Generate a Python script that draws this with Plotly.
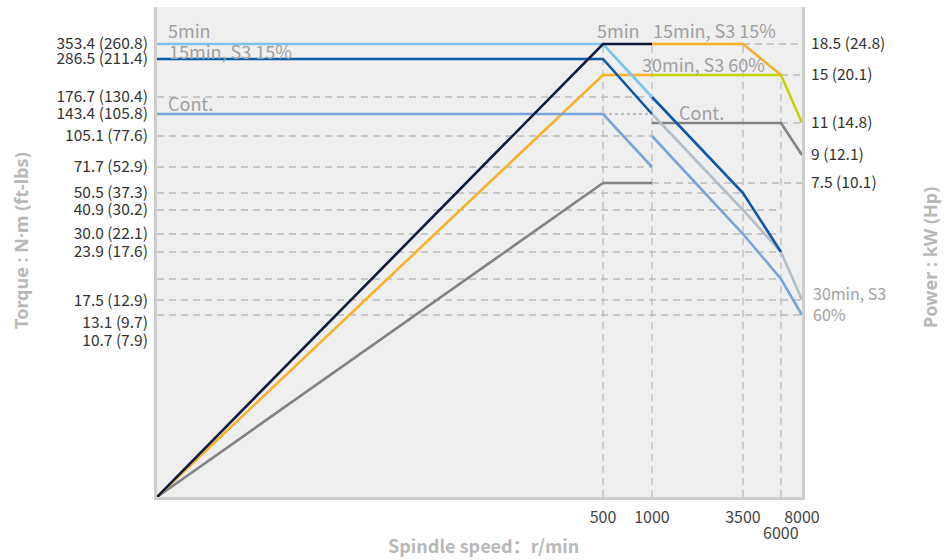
import numpy as np
import plotly.graph_objects as go

# ---------------- data ----------------
SPEED_TICKS = [0, 500, 1000, 3500, 6000, 8000]
SPEED_TICK_TEXT = ["", "500", "1000", "3500", "", "8000"]

TORQUE_TICKS = [353.4, 286.5, 176.7, 143.4, 105.1, 71.7, 50.5, 40.9, 30.0, 23.9, 17.5, 13.1, 10.7]
TORQUE_TICK_TEXT = ["353.4 (260.8)", "286.5 (211.4)", "176.7 (130.4)", "143.4 (105.8)",
                    "105.1 (77.6)", "71.7 (52.9)", "50.5 (37.3)", "40.9 (30.2)",
                    "30.0 (22.1)", "23.9 (17.6)", "17.5 (12.9)", "13.1 (9.7)", "10.7 (7.9)"]

POWER_TICKS = [18.5, 15, 11, 9, 7.5]
POWER_TICK_TEXT = ["18.5 (24.8)", "15 (20.1)", "11 (14.8)", "9 (12.1)", "7.5 (10.1)"]

# low-speed winding (0 - 1000 r/min)
low_speed = [0, 500, 1000]
low_power_5min = [0, 18.5, 18.5]
low_power_s3_15 = [0, 15, 15]
low_power_cont = [0, 7.5, 7.5]
low_torque_5min = [353.4, 353.4, 176.7]
low_torque_s3_15 = [286.5, 286.5, 143.4]
low_torque_cont = [143.4, 143.4, 71.7]

# high-speed winding (1000 - 8000 r/min)
high_speed_a = [1000, 3500, 6000]
high_power_s3_15 = [18.5, 18.5, 15]
high_torque_s3_15 = [176.7, 50.5, 23.9]
high_speed_b = [1000, 3500, 6000, 8000]
high_power_s3_60 = [15, 15, 15, 11]
high_torque_s3_60 = [143.4, 40.9, 23.9, 13.1]
high_power_cont = [11, 11, 11, 9]
high_torque_cont = [105.1, 30.0, 17.5, 10.7]

# ---------------- custom (schematic) axis scales ----------------
# piecewise scale definitions: tick value -> axis position (plot px)
X_SCALE_VAL = [0, 500, 1000, 3500, 6000, 8000]
X_SCALE_POS = [0, 446, 495, 586, 624, 645]
T_SCALE_VAL = [0, 10.7, 13.1, 17.5, 23.9, 30.0, 40.9, 50.5, 71.7, 105.1, 143.4, 176.7, 286.5, 353.4]
T_SCALE_POS = [0, 182, 197, 218, 245, 263, 287, 304, 330, 361, 383, 400, 438, 453]
P_SCALE_VAL = [0, 7.5, 9, 11, 15, 18.5]
P_SCALE_POS = [0, 314, 342, 374, 422, 453]

W, H = 645, 490  # plot area size in px
L, T = 157, 7    # plot area offset in the page


def xs(v):
    return np.interp(v, X_SCALE_VAL, X_SCALE_POS)


def yt(v):
    return np.interp(v, T_SCALE_VAL, T_SCALE_POS)


def yp(v):
    return np.interp(v, P_SCALE_VAL, P_SCALE_POS)


C_LIGHTBLUE = "#74c6ee"
C_DARKBLUE = "#0b5aa8"
C_MIDBLUE = "#7aa3dc"
C_NAVY = "#0c1a3c"
C_ORANGE = "#f9b12c"
C_GREEN = "#c3d500"
C_GRAY = "#828282"
C_LIGHTGRAY = "#b3bec9"
C_GRID = "#bcbcbc"
C_NOTE = "#a0a0a0"
FONT = "Noto Sans CJK SC"

fig = go.Figure()


def line(x, y, color, width=2.6):
    fig.add_trace(go.Scatter(x=x, y=y, mode="lines", line=dict(color=color, width=width),
                             hoverinfo="skip", showlegend=False))


# power curves
line(xs(low_speed), yp(low_power_cont), C_GRAY)
line(xs(low_speed), yp(low_power_s3_15), C_ORANGE)
line(xs(high_speed_b), yp(high_power_cont), C_GRAY)
line(xs(high_speed_b), yp(high_power_s3_60), C_GREEN)
line(xs(high_speed_a), yp(high_power_s3_15), C_ORANGE)
# torque curves
line(xs(low_speed), yt(low_torque_cont), C_MIDBLUE)
line(xs(high_speed_b), yt(high_torque_cont), C_MIDBLUE)
line(xs(high_speed_b), yt(high_torque_s3_60), C_LIGHTGRAY)
line(xs(low_speed), yt(low_torque_s3_15), C_DARKBLUE)
line(xs(high_speed_a), yt(high_torque_s3_15), C_DARKBLUE)
line(xs(low_speed), yt(low_torque_5min), C_LIGHTBLUE)
line(xs(low_speed), yp(low_power_5min), C_NAVY)

# y2 overlay trace (invisible) so the right axis renders
fig.add_trace(go.Scatter(x=[0], y=[0], yaxis="y2", mode="markers", marker=dict(opacity=0),
                         hoverinfo="skip", showlegend=False))

# ---------------- grid (dashed reference lines) ----------------
DASH = "7px,5px"
shapes = []
torque_grid = [(176.7, 1000), (105.1, 1000), (71.7, 1000), (50.5, 3500), (40.9, 6000),
               (30.0, 6000), (23.9, 6000), (17.5, 6000), (13.1, 8000), (10.7, 8000)]
for val, end in torque_grid:
    shapes.append(dict(type="line", layer="below", x0=0, x1=xs(end), y0=yt(val), y1=yt(val),
                       line=dict(color=C_GRID, width=1.3, dash=DASH)))
power_grid = [(18.5, 3500, 8000), (15, 6000, 8000), (11, 6000, 8000), (7.5, 1000, 8000)]
for val, start, end in power_grid:
    shapes.append(dict(type="line", layer="below", x0=xs(start), x1=xs(end), y0=yp(val), y1=yp(val),
                       line=dict(color=C_GRID, width=1.3, dash=DASH)))
vert_grid = [(500, 18.5), (1000, 18.5), (3500, 18.5), (6000, 15)]
for sp, pw in vert_grid:
    shapes.append(dict(type="line", layer="below", x0=xs(sp), x1=xs(sp), y0=0, y1=yp(pw),
                       line=dict(color=C_GRID, width=1.3, dash=DASH)))
shapes.append(dict(type="line", layer="below", x0=xs(500), x1=xs(1000), y0=yt(143.4), y1=yt(143.4),
                   line=dict(color="#8c8c8c", width=1, dash="dot")))

# ---------------- annotations ----------------
ann = []


def px_x(px):
    return (px - L) / W


def px_y(py):
    return (T + H - py) / H


def note(text, x, y, anchor="left", size=18):
    ann.append(dict(text=text, x=px_x(x), y=px_y(y), xref="paper", yref="paper", xanchor=anchor,
                    yanchor="middle", showarrow=False, align="left",
                    font=dict(family=FONT, size=size, color=C_NOTE)))


note("5min", 166, 30)
note("15min, S3 15%", 167, 51)
note("Cont.", 166, 103)
note("5min", 618, 30, anchor="center")
note("15min, S3 15%", 651, 30)
note("30min, S3 60%", 640, 64)
note("Cont.", 677, 112)
note("30min, S3<br>60%", 811, 303, size=16)
ann.append(dict(text="6000", x=xs(6000) / W, y=px_y(532), xref="paper", yref="paper",
                xanchor="center", yanchor="middle", showarrow=False,
                font=dict(family=FONT, size=16, color="#444")))

TITLE_FONT = dict(family="Noto Sans", size=18, color="#b8b8b8")
ann.append(dict(text="<b>Spindle speed：r/min</b>", x=px_x(483), y=px_y(545), xanchor="center",
                yanchor="middle", xref="paper", yref="paper", showarrow=False,
                font=dict(family=FONT, size=18, color="#b8b8b8")))
ann.append(dict(text="<b>Torque : N·m (ft-lbs)</b>", x=px_x(21), y=px_y(241), xanchor="center",
                yanchor="middle", xref="paper", yref="paper", showarrow=False, textangle=-90,
                font=TITLE_FONT))
ann.append(dict(text="<b>Power : kW (Hp)</b>", x=px_x(930), y=px_y(258), xanchor="center",
                yanchor="middle", xref="paper", yref="paper", showarrow=False, textangle=-90,
                font=TITLE_FONT))

# tick label nudges (px) for the lowest torque labels, as drawn in the reference
TORQUE_LABEL_SHIFT = [0, 0, 0, 0, 0, 0, 0, 0, 0, 0, 22, 23, 26]

AXIS_LINE = "#cdcdcd"
TICK_FONT = dict(family=FONT, size=15.5, color="#333333")

fig.update_layout(
    width=950, height=560, autosize=False,
    margin=dict(l=L, r=950 - L - W, t=T, b=560 - T - H, pad=0),
    paper_bgcolor="white", plot_bgcolor="#efefef",
    shapes=shapes, annotations=ann,
    xaxis=dict(range=[0, W], showgrid=False, zeroline=False, showline=True, linecolor=AXIS_LINE,
               linewidth=3, ticks="", tickvals=list(xs(SPEED_TICKS)), ticktext=SPEED_TICK_TEXT,
               tickfont=dict(family=FONT, size=16, color="#444"), ticklabelstandoff=4, fixedrange=True),
    yaxis=dict(range=[0, H], showgrid=False, zeroline=False, showline=True, linecolor=AXIS_LINE,
               linewidth=3, ticks="",
               tickvals=list(yt(TORQUE_TICKS) - np.array(TORQUE_LABEL_SHIFT)),
               ticktext=TORQUE_TICK_TEXT, tickfont=TICK_FONT, ticklabelstandoff=3, fixedrange=True),
    yaxis2=dict(range=[0, H], overlaying="y", side="right", showgrid=False, zeroline=False,
                showline=True, linecolor=AXIS_LINE, linewidth=3, ticks="",
                tickvals=list(yp(POWER_TICKS)), ticktext=POWER_TICK_TEXT, tickfont=TICK_FONT,
                ticklabelstandoff=3, fixedrange=True),
)

fig.write_html("out.html", config={"displayModeBar": False},
               post_script="document.body.style.margin='0px';")
